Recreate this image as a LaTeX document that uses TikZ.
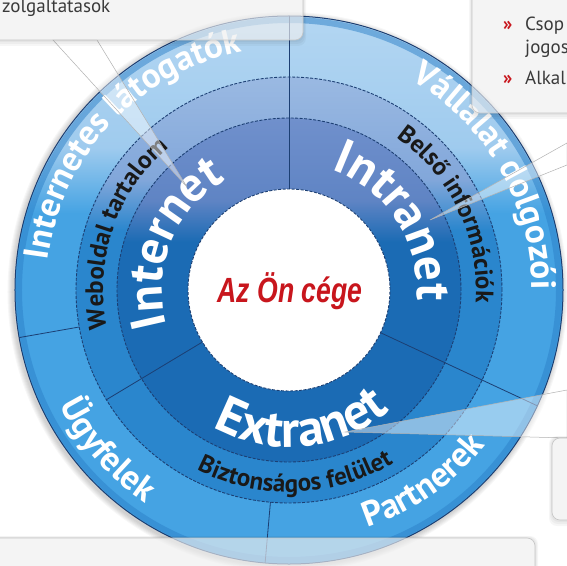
\documentclass[tikz,border=0pt]{standalone}
\usepackage{fontspec}
\setmainfont{PT Sans}
\newfontfamily\cegefont{Liberation Sans}
\usetikzlibrary{decorations.text}

\definecolor{navy}{HTML}{1C3F73}
\definecolor{oneDark}{HTML}{1B6BB4}
\definecolor{oneLight}{HTML}{5F84C4}
\definecolor{oneTop}{HTML}{7090CC}
\definecolor{twoDark}{HTML}{2A86CD}
\definecolor{twoLight}{HTML}{82A7DA}
\definecolor{twoTop}{HTML}{9AB9E2}
\definecolor{threeDark}{HTML}{45A3E3}
\definecolor{threeLight}{HTML}{9FCBEE}
\definecolor{threeTop}{HTML}{B3D6F2}
\definecolor{rimblue}{HTML}{2C80C8}
\definecolor{cegered}{HTML}{C8161D}
\definecolor{boxgray}{HTML}{3A3A3A}

\pgfdeclareverticalshading{ringone}{100bp}{color(0bp)=(oneDark); color(57bp)=(oneDark); color(63bp)=(oneLight); color(75bp)=(oneTop); color(100bp)=(oneTop)}
\pgfdeclareverticalshading{ringtwo}{100bp}{color(0bp)=(twoDark); color(57bp)=(twoDark); color(63bp)=(twoLight); color(75bp)=(twoTop); color(100bp)=(twoTop)}
\pgfdeclareverticalshading{ringthree}{100bp}{color(0bp)=(threeDark); color(57bp)=(threeDark); color(63bp)=(threeLight); color(75bp)=(threeTop); color(100bp)=(threeTop)}

\newcommand\bigfmt{\color{white}\bfseries\fontsize{49}{49}\selectfont}
\newcommand\extfmt{\color{white}\bfseries\fontsize{52}{52}\selectfont}
\newcommand\midfmt{\color{black!90}\bfseries\fontsize{25}{25}\selectfont}
\newcommand\outfmt{\color{white}\bfseries\fontsize{35}{35}\selectfont}

% text on the upper arc (read clockwise) and on the lower arc
\newcommand\ringtop[4]{%
  \path[decorate, decoration={text along path, text align=center, text={|#3|#4}}]
    ({#1+70}:#2) arc[start angle={#1+70}, end angle={#1-70}, radius=#2];}
\newcommand\ringbottom[4]{%
  \path[decorate, decoration={text along path, text align=center, text={|#3|#4}}]
    ({#1-70}:#2) arc[start angle={#1-70}, end angle={#1+70}, radius=#2];}

\tikzset{
  ringline/.style={navy, line width=0.9pt, dash pattern=on 3pt off 1.5pt},
  divider/.style={navy, line width=0.8pt},
  glasswedge/.style={fill=white, fill opacity=0.45, draw=gray!60, line width=0.5pt},
  infobox/.style={fill=white, fill opacity=0.62, draw=gray!45, line width=0.6pt, rounded corners=8pt},
  boxtext/.style={text=boxgray, font=\fontsize{19}{19}\selectfont, inner sep=0pt, anchor=base west},
  bullet/.style={text=cegered, font=\bfseries\fontsize{19}{19}\selectfont, inner sep=0pt, anchor=base west},
}

\begin{document}
\begin{tikzpicture}[x=1pt, y=1pt]
\useasboundingbox (-289,-275) rectangle (278,290);
\fill[white] (-289,-275) rectangle (278,290);

% shadow and rings
\foreach \s in {1,...,6}
  \fill[black, opacity=0.03] (-1.5,-2) circle[radius={274+\s}];
\shade[shading=ringthree] (0,0) circle[radius=274];
\draw[rimblue, opacity=0.5, line width=6pt] (0,0) circle[radius=270];
\shade[shading=ringtwo] (0,0) circle[radius=213];
\shade[shading=ringone] (0,0) circle[radius=172];
\fill[white] (0,0) circle[radius=101];

\draw[navy, line width=1pt] (0,0) circle[radius=274];
\foreach \r in {101,172,213}
  \draw[ringline] (0,0) circle[radius=\r];
\foreach \a in {90,211,335}
  \draw[divider] (\a:101) -- (\a:213);
\foreach \a in {90,190,265,335}
  \draw[divider] (\a:213) -- (\a:274);

% ring texts
\ringtop{158}{127}{\bigfmt}{Internet}
\ringtop{33}{128}{\bigfmt}{Intranet}
\ringbottom{275.5}{157}{\extfmt}{Extranet}
\ringtop{161}{186}{\midfmt}{Weboldal tartalom}
\ringtop{25.5}{187}{\midfmt}{Belső információk}
\ringbottom{272}{202}{\midfmt}{Biztonságos felület}
\ringtop{137}{243}{\outfmt}{Internetes látogatók}
\ringtop{30}{243}{\outfmt}{Vállalat dolgozói}
\ringbottom{221.3}{257}{\outfmt}{Ügyfelek}
\ringbottom{305}{250}{\outfmt}{Partnerek}

\node[text=cegered, font=\cegefont\bfseries\itshape\fontsize{35}{35}\selectfont, anchor=base, inner sep=0pt]
  (cege) at (1,-12) {\scalebox{0.76}[1]{Az Ön cége}};

% callout pointers
\coordinate (tipnet) at (-102,103);
\coordinate (tipintra) at (141,70);
\coordinate (tipextra) at (56,-142);
\path[glasswedge] (-236,250) -- (tipnet) -- (-192,250) -- cycle;
\path[glasswedge] (278,147) -- (tipintra) -- (278,125) -- cycle;
\path[glasswedge] (278,-100) -- (tipextra) -- (278,-148) -- cycle;

% boxes
\foreach \xa/\ya/\xb/\yb in {-300/250/14/300, 183/177/300/300, 263/-230/300/-148, -300/-300/246/-248} {
  \foreach \s in {2,4,6}
    \fill[black, opacity=0.035, rounded corners=8pt] ({\xa-\s/2},{\ya-\s}) rectangle ({\xb+\s/2},{\yb+\s/3});
  \path[infobox] (\xa,\ya) rectangle (\xb,\yb);
}

\node[boxtext] (szolg) at (-287,277) {zolgaltatasok};
\node[bullet] (bulletone) at (214,259) {»};
\node[boxtext] (csop) at (236,259) {Csop};
\node[boxtext] (jogos) at (236,236) {jogos};
\node[bullet] (bullettwo) at (214,205) {»};
\node[boxtext] (alkal) at (236,205) {Alkal};
\end{tikzpicture}
\end{document}
